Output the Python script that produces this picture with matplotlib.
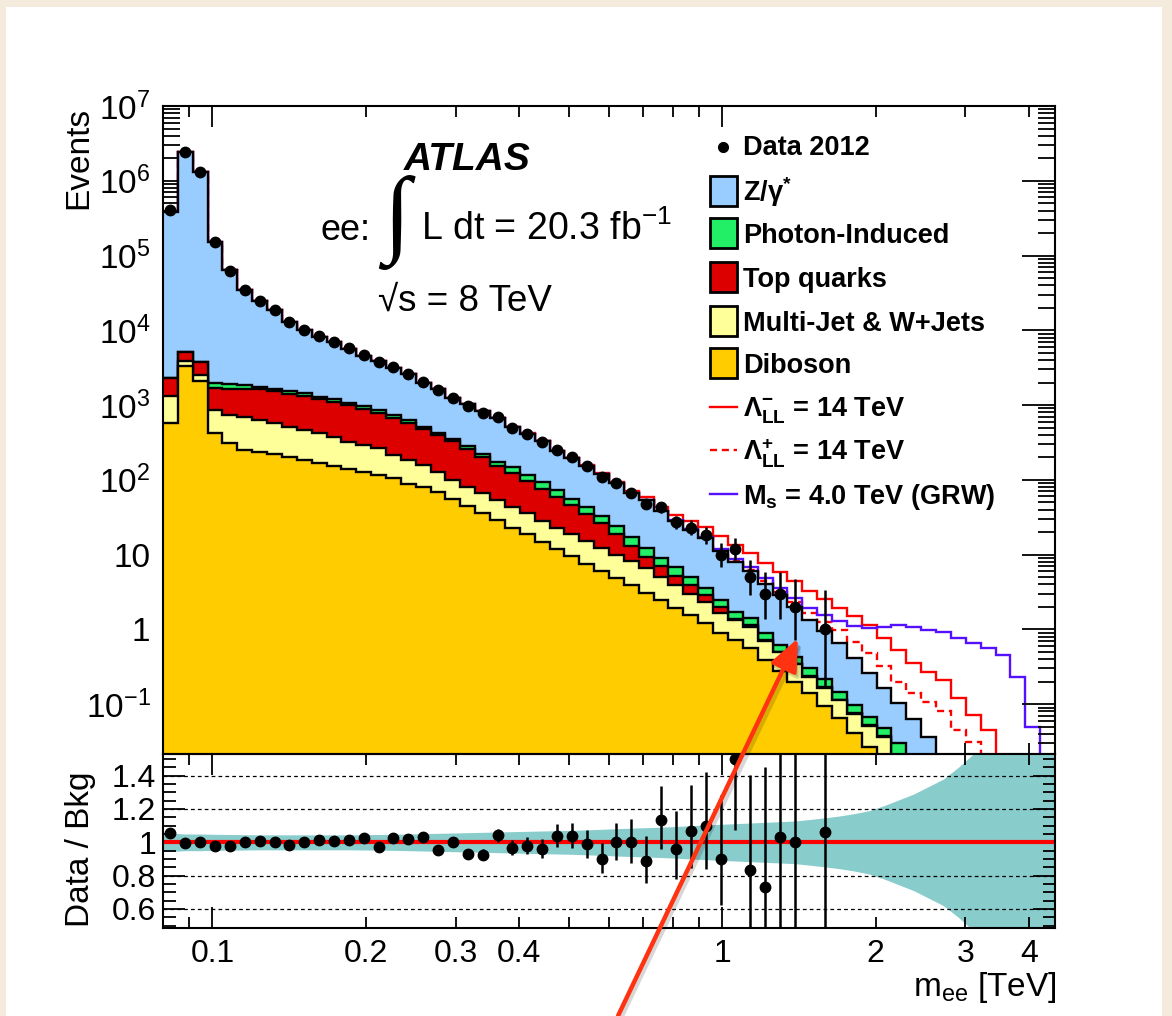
import numpy as np
import matplotlib.pyplot as plt
from matplotlib.patches import Rectangle, FancyArrowPatch
from matplotlib.lines import Line2D
from matplotlib.ticker import FixedLocator, FixedFormatter, NullFormatter

plt.rcParams['font.family'] = ['Liberation Sans', 'DejaVu Sans']
plt.rcParams['mathtext.fontset'] = 'custom'
plt.rcParams['mathtext.rm'] = 'Liberation Sans'
plt.rcParams['mathtext.it'] = 'Liberation Sans:italic'
plt.rcParams['mathtext.bf'] = 'Liberation Sans:bold'

W, H = 1172, 1016

# 60 log-spaced m_ee bins from 80 GeV to 4.5 TeV
edges = np.geomspace(0.08, 4.5, 61)
centers = np.sqrt(edges[:-1] * edges[1:])

# expected events per bin for each background
diboson = [575, 3310, 2090, 427, 307, 249, 237, 220, 204, 183,
           169, 151, 141, 128, 115, 105, 89.1, 79.4, 69.2, 56.2,
           44.7, 36.3, 28.8, 22.9, 18.6, 14.8, 11.7, 9.55, 7.59, 6.03,
           4.90, 3.89, 3.09, 2.45, 1.95, 1.55, 1.20, 0.89, 0.71, 0.56,
           0.39, 0.28, 0.20, 0.14, 0.093, 0.065, 0.041, 0.027, 0.016, 0.010,
           0.006, 0.0035, 0.002, 0.0012, 0.0007, 0.0004, 0.00025, 0.00015, 0.0001, 0.00006]
multijet = [743, 554, 422, 444, 426, 433, 394, 355, 309, 280,
            248, 225, 183, 163, 148, 109, 93.9, 77.6, 58.8, 43.8,
            36.6, 29.8, 24.9, 20.8, 16.9, 13.4, 11.2, 9.05, 7.51, 6.27,
            5.10, 4.24, 3.46, 2.56, 1.94, 1.40, 1.09, 0.77, 0.61, 0.51,
            0.31, 0.21, 0.14, 0.092, 0.073, 0.048, 0.033, 0.024, 0.020, 0.009,
            0.0035, 0.002, 0.0012, 0.0007, 0.0004, 0.00025, 0.00015, 0.0001, 0.00006, 0.00004]
top = [973, 1229, 1290, 824, 927, 940, 993, 963, 910, 877,
       777, 727, 670, 605, 526, 465, 401, 316, 265, 226,
       176, 133, 100, 78.3, 60.5, 48.1, 36.0, 26.8, 20.0, 14.0,
       8.8, 4.97, 2.75, 1.99, 1.31, 0.95, 0.56, 0.33, 0.07, 0.07,
       0.015, 0.01, 0.005, 0.005, 0.003, 0.002, 0.001, 0.001, 0.001, 0.001,
       0.0005, 0.0003, 0.0002, 0.0001, 0.0001, 0.00005, 0.00003, 0.00002, 0.00001, 0.00001]
photon = [8, 15, 15, 250, 245, 240, 130, 122, 112, 105,
          94, 86, 78, 70, 62, 54, 47, 40, 34, 29,
          25, 22, 20, 25, 20, 17, 13.5, 10.8, 8.6, 6.8,
          5.2, 3.9, 2.9, 2.1, 1.55, 1.1, 0.68, 0.46, 0.33, 0.26,
          0.17, 0.12, 0.085, 0.065, 0.045, 0.032, 0.023, 0.016, 0.011, 0.010,
          0.008, 0.0042, 0.003, 0.002, 0.0013, 0.0009, 0.0006, 0.0004, 0.00025, 0.00015]
dy = [385700, 2404900, 1316200, 151055, 61395, 33138, 22546, 16940, 11565, 8755,
      6882, 5771, 4608, 3564, 3059, 2427, 1949, 1467, 1233, 905,
      758, 621, 488, 361, 300, 238.7, 167.6, 137.8, 110.3, 87.9,
      66, 49, 40.8, 28.8, 21.3, 16.5, 12.9, 8.65, 6.28, 4.58,
      3.2, 2.28, 1.57, 1.03, 0.726, 0.503, 0.312, 0.192, 0.116, 0.074,
      0.045, 0.026, 0.0126, 0.008, 0.005, 0.003, 0.0018, 0.0011, 0.0007, 0.0004]

# observed events (first 45 bins)
data = [410000, 2400000, 1320000, 150000, 62000, 35000, 24500, 18600, 12900, 10200,
        8300, 7000, 5750, 4650, 3800, 3240, 2630, 2040, 1580, 1260,
        966, 780, 689, 491, 408, 319, 249, 201, 152, 109,
        90, 66, 47, 43, 27, 23, 18, 10, 12, 5,
        3, 3, 2, 0, 1]

# relative systematic uncertainty on the background
syst = [0.055, 0.05, 0.05, 0.048, 0.047, 0.046, 0.045, 0.045, 0.045, 0.045,
        0.045, 0.045, 0.045, 0.046, 0.047, 0.048, 0.05, 0.052, 0.054, 0.056,
        0.058, 0.06, 0.062, 0.064, 0.066, 0.068, 0.07, 0.072, 0.075, 0.078,
        0.082, 0.085, 0.088, 0.091, 0.095, 0.1, 0.104, 0.108, 0.112, 0.116,
        0.12, 0.124, 0.128, 0.137, 0.147, 0.158, 0.172, 0.19, 0.22, 0.255,
        0.29, 0.335, 0.38, 0.45, 0.53, 0.6, 0.68, 0.76, 0.85, 0.95]

# signal excess over background for the benchmark models
lam_minus = [2, 2, 3, 3, 3, 3.5, 4, 4, 4.5, 5, 5, 5.5, 5.6, 6.5, 7, 6.5, 5.5, 4.5, 3.6,
             2.9, 2.4, 1.9, 1.6, 1.3, 1.1, 0.9, 0.6, 0.43, 0.29, 0.23, 0.19, 0.11,
             0.065, 0.04, 0.018, 0.009, 0.004, 0.002]          # bins 22-59
lam_plus = [0.1, 0.2, 0.3, 0.3, 0.3, 0.3, 0.32, 0.33, 0.27, 0.22, 0.156, 0.096,
            0.077, 0.072, 0.062, 0.033, 0.024, 0.01, 0.005, 0.002, 0.001, 0.0005]  # bins 38-59
grw = [0.3, 0.4, 0.5, 0.55, 0.6, 0.65, 0.7, 0.75, 0.8, 0.8,
       0.75, 0.7, 0.65, 0.6, 0.6, 0.65, 0.7, 0.78, 0.92, 1.04,
       1.02, 0.94, 0.89, 0.76, 0.65, 0.56, 0.45, 0.23, 0.048, 0.005]  # bins 30-59

comps = np.array([diboson, multijet, top, photon, dy], dtype=float)
cum = np.cumsum(comps, axis=0)
bkg = cum[-1]
colors = ['#ffcc00', '#ffff99', '#dd0000', '#22ee66', '#99ccff']


def pad_signal(vals):
    out = np.zeros(60)
    out[60 - len(vals):] = vals
    return out


def poisson_interval(n):
    # Gehrels approximation of the 68% Poisson interval
    n = np.asarray(n, dtype=float)
    hi = n + np.sqrt(n + 0.75) + 1.0
    lo = np.where(n > 0, n * (1 - 1 / (9 * np.maximum(n, 1)) - 1 / (3 * np.sqrt(np.maximum(n, 1)))) ** 3, 0)
    return lo, hi


def fx(x):
    return x / W


def fy(y):
    return 1 - y / H


fig = plt.figure(figsize=(W / 100, H / 100), dpi=100)
fig.patch.set_facecolor('#f4ebdc')
fig.add_artist(Rectangle((fx(6), 0), fx(1162) - fx(6), fy(7), transform=fig.transFigure,
                         facecolor='white', edgecolor='none', zorder=0))

ax = fig.add_axes([fx(163), fy(754), fx(1055) - fx(163), fy(106) - fy(754)])
rax = fig.add_axes([fx(163), fy(928), fx(1055) - fx(163), fy(754) - fy(928)])

# ---- main panel ----
ax.set_xscale('log')
ax.set_yscale('log')
ax.set_xlim(0.08, 4.5)
ax.set_ylim(0.0215, 1e7)

for sig, style in [(pad_signal(lam_minus), dict(color='#ff0000', ls='-')),
                   (pad_signal(lam_plus), dict(color='#ff0000', ls=(0, (3, 2)))),
                   (pad_signal(grw), dict(color='#5511ff', ls='-'))]:
    ax.stairs(bkg + sig, edges, baseline=None, lw=1.7, zorder=1.5, **style)

for i in reversed(range(len(comps))):
    ax.stairs(cum[i], edges, baseline=1e-8, fill=True, color=colors[i], zorder=2)
    ax.stairs(cum[i], edges, baseline=None, color='k', lw=1.7, zorder=2)

data = np.array(data, dtype=float)
nd = len(data)
has = data > 0
lo, hi = poisson_interval(data)
xd = centers[:nd]
ax.errorbar(xd[has], data[has], yerr=[data[has] - lo[has], hi[has] - data[has]],
            fmt='o', color='k', ms=7.5, elinewidth=1.8, capsize=0, zorder=5)

# ---- ratio panel ----
rax.set_xscale('log')
rax.set_xlim(0.08, 4.5)
rax.set_ylim(0.486, 1.53)
syst = np.array(syst)
xb = np.r_[edges[0], centers, edges[-1]]
sb = np.r_[syst[0], syst, syst[-1]]
rax.fill_between(xb, 1 - sb, 1 + sb, color='#88cccc', lw=0, zorder=1)
for yv in [0.6, 0.8, 1.2, 1.4]:
    rax.axhline(yv, color='k', lw=0.9, ls=(0, (3, 2.5)), zorder=1.5)
rax.axhline(1.0, color='#ff0000', lw=3, zorder=2)
ratio = data[has] / bkg[:nd][has]
rax.errorbar(xd[has], ratio, yerr=[(data[has] - lo[has]) / bkg[:nd][has], (hi[has] - data[has]) / bkg[:nd][has]],
             fmt='o', color='k', ms=7.5, elinewidth=1.8, capsize=0, zorder=5)

# ---- axes styling ----
for a in (ax, rax):
    for s in a.spines.values():
        s.set_linewidth(1.5)
    a.set_facecolor('none')
    a.tick_params(which='both', direction='in', top=True, right=True, width=1.3, colors='k')
    a.xaxis.set_major_locator(FixedLocator([0.1, 1]))
    a.xaxis.set_minor_locator(FixedLocator([0.09, 0.2, 0.3, 0.4, 0.5, 0.6, 0.7, 0.8, 0.9, 2, 3, 4]))

ax.tick_params(axis='x', which='major', length=15)
ax.tick_params(axis='x', which='minor', length=8)
ax.tick_params(axis='y', which='major', length=24, labelsize=24, pad=9)
ax.tick_params(axis='y', which='minor', length=12)
ax.xaxis.set_major_formatter(NullFormatter())
ax.xaxis.set_minor_formatter(NullFormatter())
yt = [1e-1, 1, 10, 1e2, 1e3, 1e4, 1e5, 1e6, 1e7]
ax.yaxis.set_major_locator(FixedLocator(yt))
ax.yaxis.set_major_formatter(FixedFormatter(['10$^{-1}$', '1', '10', '10$^{2}$', '10$^{3}$',
                                             '10$^{4}$', '10$^{5}$', '10$^{6}$', '10$^{7}$']))
ax.yaxis.set_minor_locator(FixedLocator([m * 10.0 ** e for e in range(-2, 7) for m in range(2, 10)]))
ax.yaxis.set_minor_formatter(NullFormatter())

rax.tick_params(axis='x', which='major', length=15, labelsize=23, pad=8)
rax.tick_params(axis='x', which='minor', length=8, labelsize=23, pad=8)
rax.tick_params(axis='y', which='major', length=16, labelsize=23, pad=5)
rax.tick_params(axis='y', which='minor', length=9)
rax.xaxis.set_major_formatter(FixedFormatter(['0.1', '1']))
rax.xaxis.set_minor_formatter(FixedFormatter(['', '0.2', '0.3', '0.4', '', '', '', '', '', '2', '3', '4']))
rax.yaxis.set_major_locator(FixedLocator([0.6, 0.8, 1.0, 1.2, 1.4]))
rax.yaxis.set_major_formatter(FixedFormatter(['0.6', '0.8', '1', '1.2', '1.4']))
rax.yaxis.set_minor_locator(FixedLocator(np.arange(0.5, 1.55, 0.05)))

# ---- labels ----
fig.text(fx(79), fy(107), 'Events', rotation=90, ha='center', va='top', fontsize=24)
fig.text(fx(80), fy(849), 'Data / Bkg', rotation=90, ha='center', va='center', fontsize=24)
fig.text(fx(1057), fy(996), 'm$_{\\mathregular{ee}}$ [TeV]', ha='right', va='baseline', fontsize=24)

fig.text(fx(404), fy(170), 'ATLAS', fontsize=28, fontweight='bold', fontstyle='italic', va='baseline')
fig.text(fx(320), fy(240), 'ee:', fontsize=26, va='baseline')
fig.text(fx(383), fy(244), '\u222b', fontsize=70, va='baseline', family=['Liberation Serif', 'DejaVu Sans'])
fig.text(fx(421), fy(240), 'L dt = 20.3 fb$^{\\mathregular{-1}}$', fontsize=27, va='baseline')
fig.text(fx(378), fy(311), '\u221as = 8 TeV', fontsize=26.5, va='baseline')

# ---- legend ----
fig.add_artist(Line2D([fx(723)], [fy(147)], marker='o', ms=7, color='k', transform=fig.transFigure))
fig.text(fx(743), fy(155), 'Data 2012', fontsize=19.5, fontweight='bold', va='baseline')
entries = [('Z/\u03b3$^{\\mathbf{*}}$', colors[4], 191),
           ('Photon-Induced', colors[3], 233),
           ('Top quarks', colors[2], 277),
           ('Multi-Jet & W+Jets', colors[1], 321),
           ('Diboson', colors[0], 363)]
for label, c, yc in entries:
    fig.add_artist(Rectangle((fx(710), fy(yc + 15)), fx(737) - fx(710), fy(yc - 15) - fy(yc + 15),
                             transform=fig.transFigure, facecolor=c, edgecolor='k', lw=2))
    fig.text(fx(743), fy(yc + 10), label, fontsize=19.5, fontweight='bold', va='baseline')

lines = [('$\\mathbf{\\Lambda^{-}_{LL}}$ = 14 TeV', '#ff0000', '-', 407),
         ('$\\mathbf{\\Lambda^{+}_{LL}}$ = 14 TeV', '#ff0000', (0, (3, 2)), 450),
         ('$\\mathbf{M_{s}}$ = 4.0 TeV (GRW)', '#5511ff', '-', 494)]
for label, c, ls, yc in lines:
    fig.add_artist(Line2D([fx(710), fx(737)], [fy(yc), fy(yc)], color=c, ls=ls, lw=1.7,
                          transform=fig.transFigure))
    fig.text(fx(743), fy(yc + 10), label, fontsize=19.5, fontweight='bold', va='baseline')

# ---- red pointer arrow ----
arrow_kw = dict(arrowstyle='-|>,head_length=0.8,head_width=0.35', mutation_scale=24,
                lw=3.2, transform=fig.transFigure)
fig.add_artist(FancyArrowPatch((fx(620), fy(1020)), (fx(802), fy(640)), color='#00000028', **arrow_kw))
fig.add_artist(FancyArrowPatch((fx(617), fy(1018)), (fx(799), fy(636)), color='#ff3311', **arrow_kw))

fig.savefig('out.png', dpi=100, facecolor=fig.get_facecolor())
